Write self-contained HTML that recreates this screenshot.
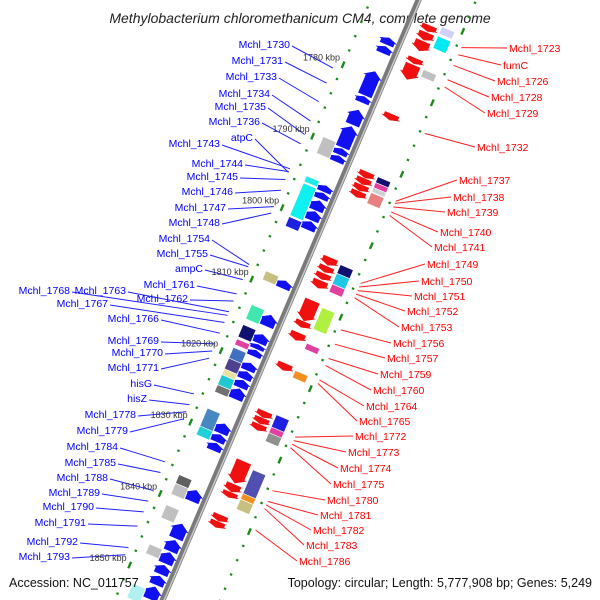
<!DOCTYPE html>
<html><head><meta charset="utf-8"><style>
html,body{margin:0;padding:0;background:#fff;width:600px;height:600px;overflow:hidden;}
svg{display:block;font-family:"Liberation Sans",sans-serif;overflow:hidden;}
</style></head><body>
<svg id="chart" width="600" height="600" viewBox="0 0 600 600">
<rect x="0" y="0" width="600" height="600" fill="#fff"/>
<text x="300" y="23" text-anchor="middle" font-size="14" font-style="italic" fill="#222">Methylobacterium chloromethanicum CM4, complete genome</text>
<g id="leaders"></g>
<g id="track" transform="translate(410,20) rotate(23.1)">
<line x1="0" y1="-30" x2="0" y2="720" stroke="#7a7a7a" stroke-width="6"/>
<line x1="1.5" y1="-30" x2="1.5" y2="720" stroke="#c8c8c8" stroke-width="1.5"/>
</g>
<g id="ticklabels"></g>
<g id="labels"></g>
<text x="9" y="587" font-size="12.5" fill="#111">Accession: NC_011757</text>
<text x="592" y="587" text-anchor="end" font-size="12.5" fill="#111">Topology: circular; Length: 5,777,908 bp; Genes: 5,249</text>
</svg>
<script>
// ---- data ----
const tickKbp = [1780,1790,1800,1810,1820,1830,1840,1850];
const tickText = ["1780 kbp","1790 kbp","1800 kbp","1810 kbp","1820 kbp","1830 kbp","1840 kbp","1850 kbp"];
const blueStart = [1774.5,1775.7,1779.2,1782.7,1784.6,1786.9,1790,1791,1795.2,1796.2,1797.3,1798.8,1800.2,1808.5,1813.3,1816,1817.4,1818.2,1820,1821.2,1822.4,1823.6,1828.5,1830,1831.2,1837.8,1842.5,1844.8,1846.5,1848.3,1849.8,1851.3];
const blueEnd   = [1775.4,1776.6,1782.5,1783.5,1786.6,1789.8,1790.8,1791.8,1796,1797,1798.6,1800,1801.3,1809.5,1814.8,1817.2,1818,1819,1821,1822.2,1823.4,1825,1829.8,1831,1832.2,1839.3,1844.5,1846.3,1848,1849.5,1851,1853];
const redStart = [1771,1772,1773.2,1775.6,1776.5,1783.4,1791.5,1792.4,1793.3,1794.2,1803.5,1804.7,1805.7,1806.7,1809.5,1812.4,1814,1818.3,1825,1825.9,1826.8,1832,1835.2,1836.3,1839.5,1840.4];
const redEnd   = [1771.8,1773,1774.5,1776.3,1778.5,1784.2,1792.3,1793.2,1794.1,1795,1804.5,1805.5,1806.5,1807.7,1812.3,1813.2,1815,1819.2,1825.8,1826.7,1827.6,1835,1836.2,1837,1840.3,1841.2];
const lboxStart = [1789.5,1795,1796,1800.7,1808.3,1813,1815.8,1817.8,1819,1820.5,1822,1822.8,1824.2,1827.5,1830,1836.8,1838,1841,1846.5,1852];
const lboxEnd   = [1791.8,1795.8,1800.5,1802,1809.5,1815,1817.5,1818.6,1820.5,1822,1822.8,1824.2,1825.2,1830,1831.2,1838,1839.5,1842.8,1847.8,1854];
const lboxColor = ["#c0c0c0","#20e8e8","#10f0f0","#2020e0","#c8c080","#40e8b0","#101070","#e040a0","#4070c0","#504090","#e8e0a0","#20c8d0","#707070","#4888c0","#20d0d8","#606060","#c0c0c0","#c0c0c0","#c0c0c0","#b0f0f0"];
const rboxStart = [1770.5,1771.8,1776.5,1791.5,1792.3,1793,1793.7,1803.8,1805,1806.5,1809.8,1814.8,1818.6,1824.8,1826.5,1827.3,1832.5,1835.8,1836.6];
const rboxEnd   = [1771.5,1773.5,1777.5,1792.3,1793,1793.6,1795.2,1805,1806.5,1807.6,1812.8,1815.6,1819.6,1826.5,1827.3,1828.5,1835.8,1836.6,1838];
const rboxColor = ["#d0d0f8","#00e8f0","#c0c0c0","#101070","#e040a0","#d0d0d0","#e88080","#101070","#20c8e8","#e040a0","#b0f040","#e040a0","#f09020","#2020e0","#e040a0","#909090","#5050b0","#f09020","#c8c080"];
const blueNames = ["Mchl_1730","Mchl_1731","Mchl_1733","Mchl_1734","Mchl_1735","Mchl_1736","atpC","Mchl_1743","Mchl_1744","Mchl_1745","Mchl_1746","Mchl_1747","Mchl_1748","Mchl_1754","Mchl_1755","ampC","Mchl_1761","Mchl_1762","Mchl_1763","Mchl_1768","Mchl_1767","Mchl_1766","Mchl_1769","Mchl_1770","Mchl_1771","hisG","hisZ","Mchl_1778","Mchl_1779","Mchl_1784","Mchl_1785","Mchl_1788","Mchl_1789","Mchl_1790","Mchl_1791","Mchl_1792","Mchl_1793"];
const blueKbp = [1780.9,1783,1785.6,1788.3,1790.2,1791.5,1795.5,1795,1795.4,1796.5,1798,1800.3,1801.2,1808.4,1808.7,1810.5,1812.5,1813.5,1815,1815.5,1816.5,1818,1819.5,1820.5,1821.5,1826.5,1828,1829,1830,1836,1837.5,1840,1841.5,1843,1845,1848,1849];
const blueLX = [290,283,277,270,266,260,253,220,243,238,233,226,220,210,208,203,195,188,126,70,108,159,159,163,159,152,147,136,128,118,116,108,100,94,86,78,70];
const blueLY = [44,60,76,93,106,121,137,143,163,176,191,207,222,238,253,268,284,298,290,290,303,318,340,352,367,383,398,414,430,446,462,477,492,506,522,541,556];
const redNames = ["Mchl_1723","fumC","Mchl_1726","Mchl_1728","Mchl_1729","Mchl_1732","Mchl_1737","Mchl_1738","Mchl_1739","Mchl_1740","Mchl_1741","Mchl_1749","Mchl_1750","Mchl_1751","Mchl_1752","Mchl_1753","Mchl_1756","Mchl_1757","Mchl_1759","Mchl_1760","Mchl_1764","Mchl_1765","Mchl_1772","Mchl_1773","Mchl_1774","Mchl_1775","Mchl_1780","Mchl_1781","Mchl_1782","Mchl_1783","Mchl_1786"];
const redKbp = [1772,1773,1774.5,1776.5,1777.5,1784,1793.5,1793.8,1794.3,1795,1795.5,1805,1805.5,1806,1806.5,1807,1811.5,1813.5,1815.5,1816.5,1818.5,1819,1826.5,1827,1827.5,1828,1834,1835.5,1836,1836.5,1839.5];
const redLX = [509,503,497,491,487,477,459,453,447,440,434,427,421,414,407,401,393,387,380,373,366,359,355,348,340,333,327,320,313,306,299];
const redLY = [48,65,81,97,113,147,180,197,212,232,247,264,281,296,311,327,343,358,374,390,406,421,436,452,468,484,500,515,530,545,561];

// ---- axis functions ----
const NS = "http://www.w3.org/2000/svg";
const ANG = 23.1*Math.PI/180, CA = Math.cos(ANG), SA = Math.sin(ANG);
function sPos(k){ return 67.4 + (k-1780)*7.77; }
function screen(k, perp){ const s = sPos(k); return [410 - SA*s + CA*perp, 20 + CA*s + SA*perp]; }
function mk(tag, attrs, parent){ const e = document.createElementNS(NS, tag); for (const a in attrs) e.setAttribute(a, attrs[a]); parent.appendChild(e); return e; }
const track = document.getElementById('track');
const leaders = document.getElementById('leaders');
const labels = document.getElementById('labels');
const tls = document.getElementById('ticklabels');

for (let k = 1766; k <= 1858; k += 2) {
  const major = (k % 10 === 0);
  const len = major ? 7 : 2.2;
  [-44, 53].forEach(function(px){
    const r = mk('rect', {x: px-1.2, y: sPos(k)-len/2, width: 2.4, height: len, fill: '#1a8a1a'}, track);
    
    
  });
}
tickKbp.forEach(function(k, i){
  const p = screen(k, -44);
  const t = mk('text', {x: p[0]-3, y: p[1]-4, 'text-anchor': 'end', 'font-size': 9, fill: '#333'}, tls);
  t.textContent = tickText[i];
  
  
});

function arrow(a, b, x1, x2, dir, fill){
  const s1 = sPos(a), s2 = sPos(b), h = Math.min((s2-s1)*0.45, 6), xm = (x1+x2)/2;
  let pts;
  if (dir < 0) pts = [[xm,s1],[x1-2,s1+h],[x1,s1+h],[x1,s2],[x2,s2],[x2,s1+h],[x2+2,s1+h]];
  else pts = [[xm,s2],[x1-2,s2-h],[x1,s2-h],[x1,s1],[x2,s1],[x2,s2-h],[x2+2,s2-h]];
  return mk('polygon', {points: pts.map(function(p){return p.join(',');}).join(' '), fill: fill, stroke: fill, 'stroke-width': 0.5}, track);
}
blueStart.forEach(function(a, i){
  const g = arrow(a, blueEnd[i], -19, -5, -1, '#1010f0');
  
  
});
redStart.forEach(function(a, i){
  const g = arrow(a, redEnd[i], 13, 28, 1, '#f01010');
  
  
});
lboxStart.forEach(function(a, i){
  const r = mk('rect', {x: -34, y: sPos(a), width: 14, height: sPos(lboxEnd[i])-sPos(a), fill: lboxColor[i], stroke: '#fff', 'stroke-width': 0.6}, track);
  
  
});
rboxStart.forEach(function(a, i){
  const r = mk('rect', {x: 32, y: sPos(a), width: 14, height: sPos(rboxEnd[i])-sPos(a), fill: rboxColor[i], stroke: '#fff', 'stroke-width': 0.6}, track);
  
  
});

blueNames.forEach(function(n, i){
  const p = screen(blueKbp[i], -52);
  const l = mk('line', {x1: blueLX[i]+2, y1: blueLY[i]+2, x2: p[0], y2: p[1], stroke: '#2020ff', 'stroke-width': 1}, leaders);
  
  
  const t = mk('text', {x: blueLX[i], y: blueLY[i]+4, 'text-anchor': 'end', 'font-size': 10.5, fill: '#0000ff'}, labels);
  t.textContent = n;
  
  
});
redNames.forEach(function(n, i){
  const p = screen(redKbp[i], 58);
  const l = mk('line', {x1: redLX[i]-2, y1: redLY[i], x2: p[0], y2: p[1], stroke: '#ff2020', 'stroke-width': 1}, leaders);
  
  
  const t = mk('text', {x: redLX[i], y: redLY[i]+4, 'font-size': 10.5, fill: '#ff0000'}, labels);
  t.textContent = n;
  
  
});
</script>
</body></html>
